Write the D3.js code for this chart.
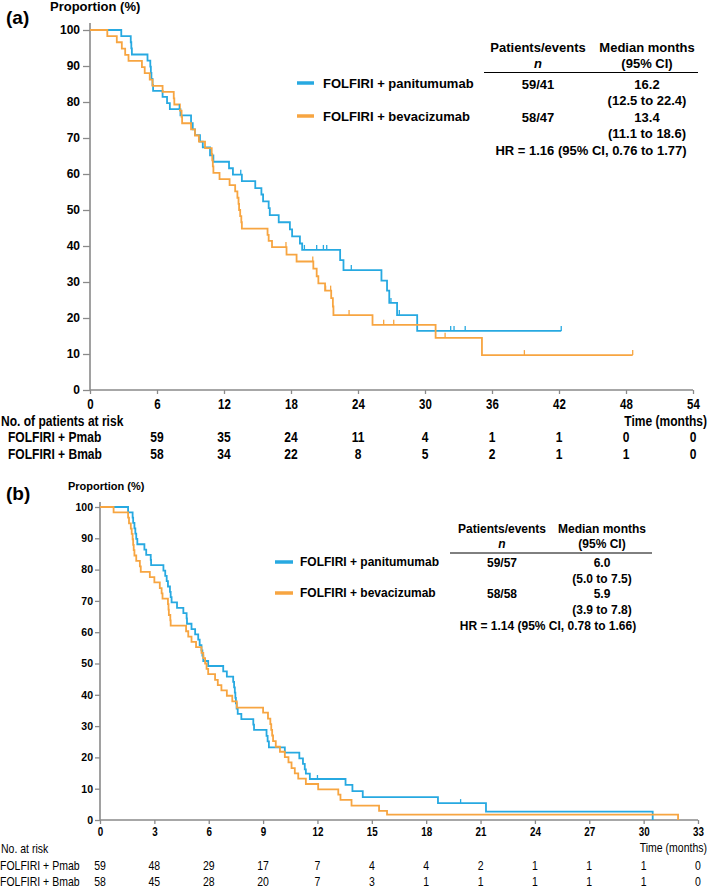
<!DOCTYPE html>
<html><head><meta charset="utf-8">
<script src="https://cdn.jsdelivr.net/npm/d3@7"></script>
<style>
html,body{margin:0;padding:0;background:#fff;}
svg{display:block;}
text{font-family:"Liberation Sans",Arial,sans-serif;fill:#000;}
</style></head>
<body>
<script>
// ---------- DATA ----------
const seriesNames = ["FOLFIRI + panitumumab", "FOLFIRI + bevacizumab"];
const riskNames = ["FOLFIRI + Pmab", "FOLFIRI + Bmab"];

// Panel (a)
const aTicksX = [0, 6, 12, 18, 24, 30, 36, 42, 48, 54];
const aTicksY = [0, 10, 20, 30, 40, 50, 60, 70, 80, 90, 100];
const aPmab = [[0,100],[2.8,98.3],[3.65,96.6],[3.7,94.9],[3.75,93.2],[5.15,91.5],[5.4,89.8],[5.45,88.1],[5.5,86.4],[5.6,84.7],[5.65,83.1],[6.5,81.4],[6.9,79.7],[7.15,78.0],[8.1,76.3],[9.05,74.1],[9.2,72.4],[9.4,70.8],[9.85,69.0],[10.1,67.4],[10.75,65.2],[11.05,63.4],[12.45,61.6],[12.8,59.8],[13.6,58.0],[14.8,56.1],[15.35,54.3],[15.5,52.4],[16.0,50.5],[16.1,48.6],[16.9,46.6],[17.9,44.6],[18.1,42.7],[18.8,40.7],[19.0,38.9],[22.4,36.1],[22.7,33.3],[26.1,30.4],[26.6,27.6],[26.8,24.2],[27.5,20.8],[29.3,16.4],[42.2,16.4]];
const aPmabCens = [8.0, 13.5, 19.2, 20.3, 20.9, 21.2, 23.4, 26.95, 27.7, 32.3, 32.6, 33.6, 42.2];
const aBmab = [[0,100],[1.55,98.3],[2.4,96.6],[2.85,94.8],[3.15,93.1],[3.45,91.4],[4.65,89.7],[4.9,88.0],[5.35,86.2],[5.6,84.5],[6.5,82.8],[7.5,81.0],[7.55,79.3],[8.05,77.6],[8.2,75.9],[8.25,74.1],[9.05,72.4],[9.4,70.7],[9.75,69.0],[10.3,67.2],[10.9,65.5],[10.95,63.8],[11.0,62.1],[11.05,60.3],[11.6,58.6],[12.5,56.9],[13.0,55.2],[13.2,53.4],[13.3,51.7],[13.35,50.0],[13.45,48.3],[13.55,46.6],[13.6,44.8],[15.9,43.1],[16.0,41.4],[16.3,39.7],[17.6,37.6],[18.5,35.7],[20.0,33.7],[20.3,31.6],[20.45,29.6],[21.05,27.6],[21.6,25.5],[21.75,23.2],[21.8,20.8],[25.3,18.1],[30.95,14.5],[35.1,9.7],[48.6,9.7]];
const aBmabCens = [17.55, 19.95, 21.1, 21.55, 23.2, 26.3, 27.2, 31.8, 38.9, 48.6];
const aRiskTimes = [0, 6, 12, 18, 24, 30, 36, 42, 48];
const aRiskPmab = [59, 35, 24, 11, 4, 1, 1, 0, 0];
const aRiskBmab = [58, 34, 22, 8, 5, 2, 1, 1, 0];
const aTableN = ["59/41", "58/47"];
const aTableMed = ["16.2", "13.4"];
const aTableCI = ["(12.5 to 22.4)", "(11.1 to 18.6)"];
const aHR = "HR = 1.16 (95% CI, 0.76 to 1.77)";

// Panel (b)
const bTicksX = [0, 3, 6, 9, 12, 15, 18, 21, 24, 27, 30, 33];
const bTicksY = [0, 10, 20, 30, 40, 50, 60, 70, 80, 90, 100];
const bPmab = [[0,100],[1.55,98.3],[1.8,96.6],[1.83,94.9],[1.9,93.2],[1.95,91.5],[2.0,89.8],[2.06,88.1],[2.45,86.4],[2.55,84.7],[2.8,83.1],[2.82,81.4],[3.5,79.7],[3.6,78.0],[3.68,76.3],[3.75,74.6],[3.86,72.9],[3.9,71.2],[3.95,69.5],[4.25,67.8],[4.6,66.1],[4.78,64.4],[4.8,62.7],[5.05,61.0],[5.25,59.3],[5.42,57.6],[5.5,55.9],[5.6,54.2],[5.65,52.5],[5.7,50.8],[5.97,49.2],[6.8,47.5],[7.0,45.8],[7.35,44.1],[7.4,42.4],[7.44,40.7],[7.47,39.0],[7.5,37.3],[7.54,35.6],[7.6,33.9],[7.8,32.2],[8.46,30.5],[8.5,28.8],[9.19,26.9],[9.25,25.1],[9.32,23.2],[10.2,21.5],[11.0,19.7],[11.2,17.9],[11.3,16.2],[11.36,14.8],[11.58,13.1],[13.55,11.2],[13.93,9.2],[14.5,7.3],[18.65,5.4],[21.3,2.7],[30.5,0]];
const bPmabCens = [12.0, 19.9];
const bBmab = [[0,100],[0.75,98.3],[1.55,96.6],[1.6,94.8],[1.7,93.1],[1.75,91.4],[1.8,89.7],[1.83,87.9],[1.86,86.2],[1.9,84.5],[2.0,82.8],[2.2,81.0],[2.25,79.3],[2.75,77.6],[3.0,75.9],[3.3,74.1],[3.4,72.4],[3.45,70.7],[3.75,69.0],[3.78,67.2],[3.8,65.5],[3.88,63.8],[3.9,62.1],[4.75,60.3],[4.87,58.6],[5.05,56.9],[5.3,55.2],[5.6,53.4],[5.7,51.7],[5.8,50.0],[5.88,48.3],[5.97,46.6],[6.35,44.8],[6.5,43.1],[6.7,41.4],[7.0,39.7],[7.3,37.9],[7.55,35.9],[9.0,34.3],[9.27,32.4],[9.4,30.6],[9.45,28.8],[9.5,27.0],[9.55,25.2],[9.7,23.4],[9.93,21.8],[10.2,20.1],[10.4,18.4],[10.57,16.6],[10.75,14.9],[10.94,13.2],[11.36,11.5],[12.04,9.8],[13.15,8.1],[13.27,6.4],[13.88,4.6],[15.4,2.9],[15.84,1.7],[31.9,0]];
const bBmabCens = [];
const bRiskTimes = [0, 3, 6, 9, 12, 15, 18, 21, 24, 27, 30, 33];
const bRiskPmab = [59, 48, 29, 17, 7, 4, 4, 2, 1, 1, 1, 0];
const bRiskBmab = [58, 45, 28, 20, 7, 3, 1, 1, 1, 1, 1, 0];
const bTableN = ["59/57", "58/58"];
const bTableMed = ["6.0", "5.9"];
const bTableCI = ["(5.0 to 7.5)", "(3.9 to 7.8)"];
const bHR = "HR = 1.14 (95% CI, 0.78 to 1.66)";

const colors = ["#27a9e1", "#f7a541"];

// ---------- DRAW ----------
const W = 709, H = 890;
const svg = d3.select("body").append("svg").attr("width", W).attr("height", H);

function levelAt(curve, t) {
  let v = curve[0][1];
  for (const p of curve) { if (p[0] <= t) v = p[1]; else break; }
  return v;
}

// condensed text: translate to anchor point, squeeze horizontally
function ntext(parent, x, y, str, o) {
  return parent.append("text")
    .attr("transform", `translate(${x},${y}) scale(${o.sx},1)`)
    .attr("dy", "0.35em")
    .attr("text-anchor", o.anchor || "start")
    .attr("font-size", o.size)
    .attr("font-weight", o.weight || "normal")
    .text(str);
}

function panel(cfg) {
  const g = svg.append("g");
  const x = d3.scaleLinear().domain([0, cfg.xMax]).range(cfg.xr);
  const y = d3.scaleLinear().domain([0, 100]).range(cfg.yr);

  g.append("text").attr("x", 6).attr("y", cfg.labelY).attr("font-size", cfg.labelSize).attr("font-weight", "bold").text(cfg.label);
  g.append("text").attr("x", cfg.titleX).attr("y", cfg.titleY).attr("font-size", cfg.titleSize).attr("font-weight", "bold").text("Proportion (%)");

  // y axis
  const ya = g.append("g").attr("transform", `translate(${cfg.xr[0]},0)`)
    .call(d3.axisLeft(y).tickValues(cfg.ticksY).tickSize(cfg.yTick).tickPadding(cfg.yPad).tickFormat(d3.format("d")));
  ya.select(".domain").remove();
  ya.selectAll("line").attr("stroke", "#8a8a8a").attr("stroke-width", 1.3);
  ya.selectAll("text").attr("font-size", cfg.yFont).attr("font-weight", "bold").attr("font-family", '"Liberation Sans",Arial,sans-serif');
  g.append("line").attr("x1", cfg.xr[0]).attr("x2", cfg.xr[0]).attr("y1", cfg.axisTop).attr("y2", cfg.yr[0]).attr("stroke", "#8a8a8a").attr("stroke-width", 1.6);

  // x axis
  const xa = g.append("g").attr("transform", `translate(0,${cfg.yr[0]})`)
    .call(d3.axisBottom(x).tickValues(cfg.ticksX).tickSize(cfg.xTick).tickPadding(cfg.xPad).tickFormat(d3.format("d")));
  xa.select(".domain").remove();
  xa.selectAll("line").attr("stroke", "#8a8a8a").attr("stroke-width", 1.3);
  xa.selectAll("text").attr("font-size", cfg.xFont).attr("font-weight", cfg.xWeight)
    .attr("font-family", '"Liberation Sans",Arial,sans-serif').attr("transform", `scale(${cfg.xSx},1)`);
  g.append("line").attr("x1", cfg.xr[0]).attr("x2", x(cfg.xMax)).attr("y1", cfg.yr[0]).attr("y2", cfg.yr[0]).attr("stroke", "#8a8a8a").attr("stroke-width", 1.6);

  // curves
  const line = d3.line().x(d => x(d[0])).y(d => y(d[1])).curve(d3.curveStepAfter);
  cfg.curves.forEach((c, i) => {
    g.append("path").attr("d", line(c)).attr("fill", "none").attr("stroke", colors[i]).attr("stroke-width", 1.8);
  });
  cfg.cens.forEach((cs, i) => {
    g.selectAll(null).data(cs).enter().append("line")
      .attr("x1", d => x(d)).attr("x2", d => x(d))
      .attr("y1", d => y(levelAt(cfg.curves[i], d)))
      .attr("y2", d => y(levelAt(cfg.curves[i], d)) - cfg.censH)
      .attr("stroke", colors[i]).attr("stroke-width", 1.3);
  });

  // legend
  seriesNames.forEach((n, i) => {
    const ly = cfg.legY[i];
    g.append("line").attr("x1", cfg.legX).attr("x2", cfg.legX + cfg.legLen).attr("y1", ly).attr("y2", ly)
      .attr("stroke", colors[i]).attr("stroke-width", 3.5);
    g.append("text").attr("x", cfg.legX + cfg.legLen + cfg.legGap).attr("y", ly).attr("dy", "0.35em")
      .attr("font-size", cfg.legFont).attr("font-weight", "bold").text(n);
  });

  // stats table
  const t = g.append("g").attr("font-size", cfg.tabFont).attr("font-weight", "bold").attr("text-anchor", "middle");
  t.append("text").attr("x", cfg.colN).attr("y", cfg.hdrY).attr("dy", "0.35em").text("Patients/events");
  t.append("text").attr("x", cfg.colM).attr("y", cfg.hdrY).attr("dy", "0.35em").text("Median months");
  t.append("text").attr("x", cfg.colN).attr("y", cfg.hdr2Y).attr("dy", "0.35em").attr("font-style", "italic").text("n");
  t.append("text").attr("x", cfg.colM).attr("y", cfg.hdr2Y).attr("dy", "0.35em").text("(95% CI)");
  g.append("line").attr("x1", cfg.ruleX[0]).attr("x2", cfg.ruleX[1]).attr("y1", cfg.ruleY).attr("y2", cfg.ruleY).attr("stroke", "#000").attr("stroke-width", 1);
  cfg.tabN.forEach((v, i) => {
    t.append("text").attr("x", cfg.colN).attr("y", cfg.rowY[i]).attr("dy", "0.35em").text(v);
    t.append("text").attr("x", cfg.colM).attr("y", cfg.rowY[i]).attr("dy", "0.35em").text(cfg.tabMed[i]);
    t.append("text").attr("x", cfg.colM).attr("y", cfg.rowY[i] + cfg.ciOff).attr("dy", "0.35em").text(cfg.tabCI[i]);
  });
  t.append("text").attr("x", cfg.hrX).attr("y", cfg.hrY).attr("dy", "0.35em").text(cfg.hr);

  // risk table
  const r = g.append("g");
  const ro = { sx: cfg.riskSx, size: cfg.riskFont, weight: cfg.riskWeight };
  ntext(r, 1, cfg.riskHdrY, cfg.riskTitle, ro);
  ntext(r, W - 2, cfg.timeY, "Time (months)", Object.assign({}, ro, { anchor: "end" }));
  [cfg.riskP, cfg.riskB].forEach((arr, i) => {
    const yy = cfg.riskRowY[i];
    ntext(r, cfg.riskNameX, yy, riskNames[i], ro);
    arr.forEach((d, k) => {
      ntext(r, x(cfg.riskTimes[k] + cfg.riskShift), yy, d, Object.assign({}, ro, { anchor: "middle" }));
    });
  });
}

panel({
  label: "(a)", labelY: 24, labelSize: 19, titleX: 50, titleY: 11, titleSize: 13,
  xMax: 54, xr: [90, 693], yr: [390, 30], axisTop: 23,
  ticksX: aTicksX, ticksY: aTicksY, yTick: 7, yPad: 3, yFont: 12, xTick: 4, xPad: 5, xFont: 14, xWeight: "bold", xSx: 0.82,
  curves: [aPmab, aBmab], cens: [aPmabCens, aBmabCens], censH: 5,
  legX: 297, legLen: 17, legGap: 9, legY: [83, 116], legFont: 13,
  tabFont: 13, colN: 538, colM: 647, hdrY: 47, hdr2Y: 63, ruleX: [484, 698], ruleY: 72.5,
  tabN: aTableN, tabMed: aTableMed, tabCI: aTableCI, rowY: [84, 117], ciOff: 16, hrX: 591, hrY: 150, hr: aHR,
  riskTitle: "No. of patients at risk", riskHdrY: 421, timeY: 421,
  riskFont: 14, riskWeight: "bold", riskSx: 0.86, riskNameX: 8, riskRowY: [437, 454],
  riskP: aRiskPmab, riskB: aRiskBmab, riskTimes: aRiskTimes, riskShift: 6
});

panel({
  label: "(b)", labelY: 500, labelSize: 19, titleX: 68, titleY: 490, titleSize: 11,
  xMax: 33, xr: [100, 698], yr: [820, 507], axisTop: 502,
  ticksX: bTicksX, ticksY: bTicksY, yTick: 5, yPad: 2, yFont: 10.5, xTick: 4, xPad: 3, xFont: 12, xWeight: "bold", xSx: 0.82,
  curves: [bPmab, bBmab], cens: [bPmabCens, bBmabCens], censH: 4,
  legX: 275, legLen: 18, legGap: 7, legY: [562, 593], legFont: 12,
  tabFont: 12, colN: 502, colM: 602, hdrY: 529, hdr2Y: 544, ruleX: [450, 652], ruleY: 553,
  tabN: bTableN, tabMed: bTableMed, tabCI: bTableCI, rowY: [563, 594], ciOff: 16, hrX: 548, hrY: 626, hr: bHR,
  riskTitle: "No. at risk", riskHdrY: 849, timeY: 848,
  riskFont: 12.5, riskWeight: "normal", riskSx: 0.84, riskNameX: 0, riskRowY: [866, 882],
  riskP: bRiskPmab, riskB: bRiskBmab, riskTimes: bRiskTimes, riskShift: 0
});
</script>
</body></html>
